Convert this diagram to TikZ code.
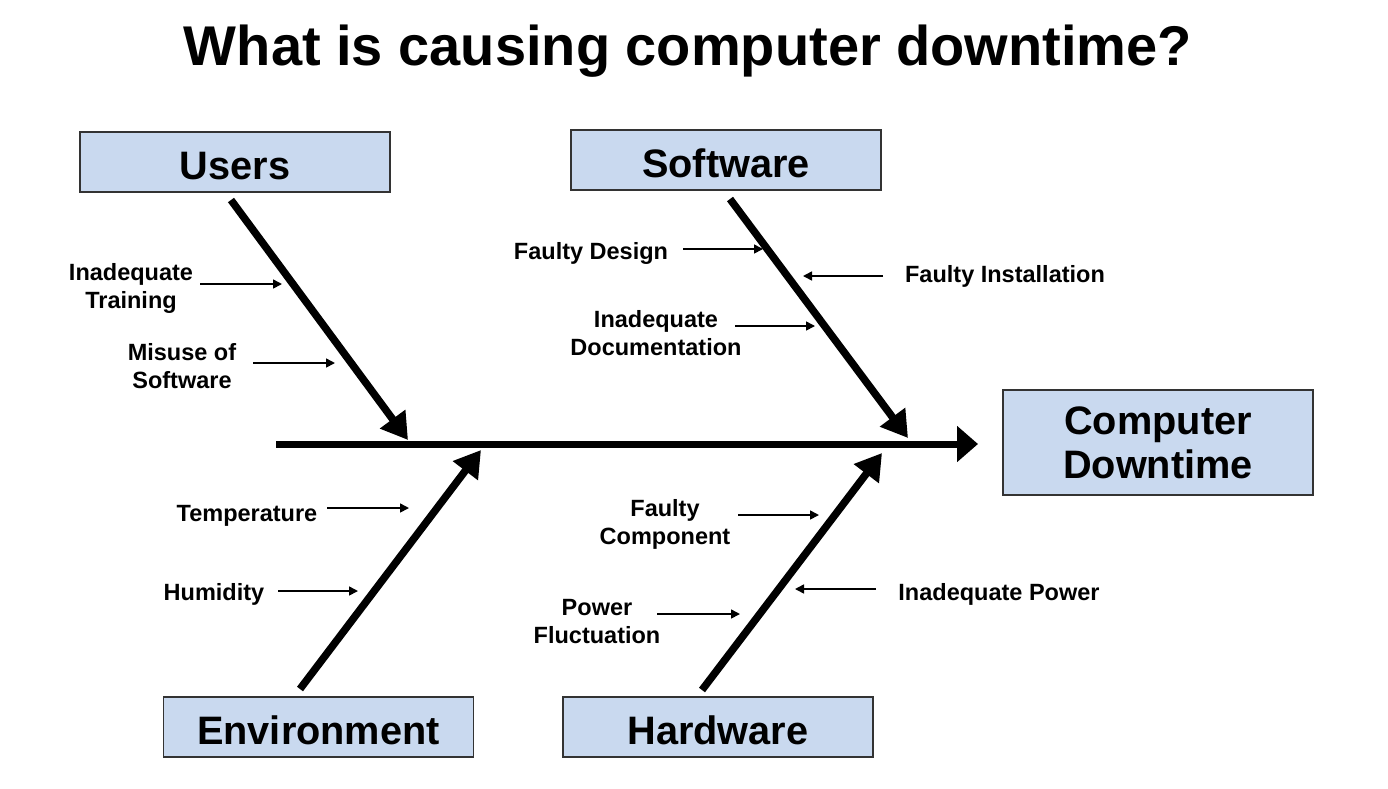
\documentclass[tikz,border=0pt]{standalone}
\usepackage{fontspec}
\setmainfont{Liberation Sans}
\usetikzlibrary{arrows.meta}
\definecolor{boxfill}{HTML}{C9D9EF}
\definecolor{boxline}{HTML}{333333}
\begin{document}
\begin{tikzpicture}[x=1pt,y=-1pt,
  catbox/.style={draw=boxline, line width=1.5pt, fill=boxfill, minimum width=310pt, minimum height=60pt, inner sep=0pt, align=center, font=\fontsize{39.7}{44}\selectfont\bfseries},
  cattext/.style={text height=34pt, text depth=0pt},
  cause/.style={font=\fontsize{23.5}{28}\selectfont\bfseries, align=center, inner sep=0pt},
  bone/.style={line width=7.5pt, -{Triangle[length=26pt,width=30pt]}},
  spine/.style={line width=7pt, -{Triangle[length=21pt,width=35pt]}},
  thinarrow/.style={line width=1.6pt, -{Triangle[length=9pt,width=9pt]}}]
\useasboundingbox (0,0) rectangle (1388,788);

% title
\node[anchor=base, inner sep=0pt, font=\fontsize{56}{60}\selectfont\bfseries] (title) at (688,65) {What is causing computer downtime?};

% category boxes
\node[catbox, cattext] (users) at (235,162) {Users};
\node[catbox, cattext] (software) at (726,160) {Software};
\node[catbox, cattext] (env) at (318.5,727) {Environment};
\node[catbox, cattext] (hw) at (718,727) {Hardware};
\node[catbox, minimum height=105pt] (effect) at (1158,442.5)
  {\raisebox{-4.7pt}[\height][\depth]{\begin{tabular}{@{}c@{}}Computer\\Downtime\end{tabular}}};

% spine
\coordinate (spS) at (276,444);
\coordinate (spE) at (978,444);
\draw[spine] (spS) -- (spE);

% bones
\coordinate (uS) at (231,200);  \coordinate (uE) at (408,440);
\coordinate (sS) at (730,199);  \coordinate (sE) at (908,438);
\coordinate (eS) at (300,689);  \coordinate (eE) at (481,450);
\coordinate (hS) at (702,690);  \coordinate (hE) at (882,453);
\draw[bone] (uS) -- (uE);
\draw[bone] (sS) -- (sE);
\draw[bone] (eS) -- (eE);
\draw[bone] (hS) -- (hE);

% causes
\node[cause] (c1) at (131,288) {Inadequate\\Training};
\node[cause] (c2) at (182,366.5) {Misuse of\\Software};
\node[cause, anchor=base] (c3) at (591,259) {Faulty Design};
\node[cause, anchor=base] (c4) at (1005,282) {Faulty Installation};
\node[cause] (c5) at (656,333.5) {Inadequate\\Documentation};
\node[cause, anchor=base] (c6) at (247,521) {Temperature};
\node[cause, anchor=base] (c7) at (214,600) {Humidity};
\node[cause] (c8) at (665,524) {Faulty\\Component};
\node[cause] (c9) at (597,622) {Power\\Fluctuation};
\node[cause, anchor=base] (c10) at (999,600) {Inadequate Power};

% cause arrows
\coordinate (a1s) at (200,284); \coordinate (a1e) at (282,284);
\coordinate (a2s) at (253,363); \coordinate (a2e) at (335,363);
\coordinate (a3s) at (683,249); \coordinate (a3e) at (763,249);
\coordinate (a4s) at (883,276); \coordinate (a4e) at (803,276);
\coordinate (a5s) at (735,326); \coordinate (a5e) at (815,326);
\coordinate (a6s) at (327,508); \coordinate (a6e) at (409,508);
\coordinate (a7s) at (278,591); \coordinate (a7e) at (358,591);
\coordinate (a8s) at (738,515); \coordinate (a8e) at (819,515);
\coordinate (a9s) at (657,614); \coordinate (a9e) at (740,614);
\coordinate (a10s) at (876,589); \coordinate (a10e) at (795,589);
\foreach \i in {1,...,10} {\draw[thinarrow] (a\i s) -- (a\i e);}
\end{tikzpicture}
\end{document}
